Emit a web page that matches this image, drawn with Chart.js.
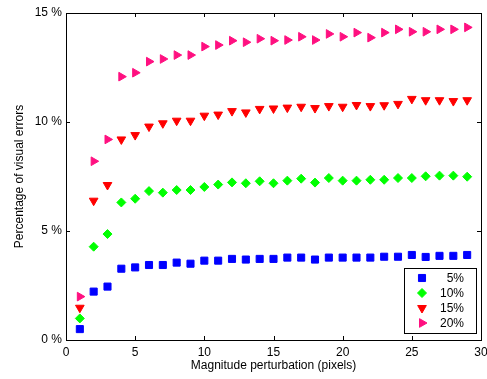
<!DOCTYPE html>
<html>
<head>
<meta charset="utf-8">
<script src="https://cdn.jsdelivr.net/npm/chart.js@4"></script>
<style>
  html, body { margin: 0; padding: 0; background: #fff; }
  #wrap { width: 487px; height: 379px; }
</style>
</head>
<body>
<div id="wrap"><canvas id="myChart" width="487" height="379"></canvas></div>
<script>
// magnitude perturbation (pixels)
const xs = [1, 2, 3, 4, 5, 6, 7, 8, 9, 10, 11, 12, 13, 14, 15, 16, 17, 18, 19, 20, 21, 22, 23, 24, 25, 26, 27, 28, 29];

// percentage of visual errors
const err5 = [0.50, 2.22, 2.45, 3.27, 3.33, 3.44, 3.44, 3.55, 3.50, 3.64, 3.64, 3.72, 3.69, 3.72, 3.72,
    3.78, 3.78, 3.69, 3.78, 3.78, 3.78, 3.78, 3.82, 3.82, 3.90, 3.81, 3.86, 3.86, 3.90];
const err10 = [0.99, 4.28, 4.86, 6.31, 6.48, 6.83, 6.76, 6.88, 6.88, 7.02, 7.13, 7.23, 7.19, 7.28, 7.19,
    7.31, 7.40, 7.22, 7.43, 7.31, 7.31, 7.35, 7.35, 7.43, 7.43, 7.51, 7.54, 7.54, 7.49];
const err15 = [1.48, 6.39, 7.11, 9.20, 9.40, 9.79, 9.94, 10.06, 10.06, 10.29, 10.34, 10.50, 10.44, 10.60, 10.62,
    10.66, 10.70, 10.64, 10.73, 10.70, 10.78, 10.73, 10.77, 10.83, 11.06, 11.00, 11.00, 10.96, 11.00];
const err20 = [1.99, 8.20, 9.20, 12.08, 12.26, 12.77, 12.89, 13.07, 13.07, 13.46, 13.53, 13.73, 13.66, 13.82, 13.73,
    13.76, 13.91, 13.76, 14.04, 13.91, 14.10, 13.87, 14.10, 14.25, 14.14, 14.14, 14.25, 14.25, 14.34];

const seriesLabels = ['5%', '10%', '15%', '20%'];
const xTicks = [0, 5, 10, 15, 20, 25, 30];
const yTicks = [0, 5, 10, 15];

const FONT = 'Arial, "Liberation Sans", Helvetica, sans-serif';

function pts(ys) {
    return xs.map((x, i) => ({ x: x, y: ys[i] }));
}

function ds(label, ys, color, style, rot, r) {
    return {
        label: label,
        data: pts(ys),
        backgroundColor: color,
        borderColor: color,
        borderWidth: 1,
        pointStyle: style,
        rotation: rot,
        pointRadius: r,
        pointHoverRadius: r,
        showLine: false
    };
}

// inward ticks on all four sides (matlab box style)
const boxTicks = {
    id: 'boxTicks',
    afterDraw(chart) {
        const ctx = chart.ctx;
        const a = chart.chartArea;
        const sx = chart.scales.x, sy = chart.scales.y;
        const L = 4;
        ctx.save();
        ctx.strokeStyle = '#000';
        ctx.lineWidth = 1;
        ctx.beginPath();
        xTicks.forEach(v => {
            const px = Math.round(sx.getPixelForValue(v)) + 0.5;
            ctx.moveTo(px, a.bottom); ctx.lineTo(px, a.bottom - L);
            ctx.moveTo(px, a.top); ctx.lineTo(px, a.top + L);
        });
        yTicks.forEach(v => {
            const py = Math.round(sy.getPixelForValue(v)) + 0.5;
            ctx.moveTo(a.left, py); ctx.lineTo(a.left + L, py);
            ctx.moveTo(a.right, py); ctx.lineTo(a.right - L, py);
        });
        ctx.stroke();
        ctx.strokeRect(Math.round(a.left) + 0.5, Math.round(a.top) + 0.5,
            Math.round(a.right - a.left), Math.round(a.bottom - a.top));
        ctx.restore();
    }
};

// legend box in the lower right corner
const boxLegend = {
    id: 'boxLegend',
    afterDraw(chart) {
        const ctx = chart.ctx;
        const a = chart.chartArea;
        const w = 72, h = 65;
        const x0 = Math.round(a.right) - 5 - w, y0 = Math.round(a.bottom) - 7 - h;
        ctx.save();
        ctx.fillStyle = '#fff';
        ctx.fillRect(x0, y0, w, h);
        ctx.strokeStyle = '#000';
        ctx.lineWidth = 1;
        ctx.strokeRect(x0 + 0.5, y0 + 0.5, w, h);
        ctx.font = '12px ' + FONT;
        ctx.textAlign = 'right';
        ctx.textBaseline = 'middle';
        chart.data.datasets.forEach((d, i) => {
            const cy = y0 + 10 + i * 15;
            ctx.fillStyle = d.backgroundColor;
            ctx.strokeStyle = d.borderColor;
            Chart.helpers.drawPoint(ctx, {
                pointStyle: d.pointStyle, rotation: d.rotation,
                radius: d.pointRadius, borderWidth: 1
            }, x0 + 18, cy);
            ctx.fillStyle = '#000';
            ctx.fillText(d.label, x0 + w - 12, cy + 1);
        });
        ctx.restore();
    }
};

const config = {
    type: 'scatter',
    data: {
        datasets: [
            ds(seriesLabels[0], err5, '#0000ff', 'rect', 0, 5),
            ds(seriesLabels[1], err10, '#00ff00', 'rectRot', 0, 4.5),
            ds(seriesLabels[2], err15, '#ff0000', 'triangle', 180, 5),
            ds(seriesLabels[3], err20, '#ff1080', 'triangle', 90, 5)
        ]
    },
    options: {
        responsive: false,
        animation: false,
        layout: { padding: { top: 13, right: 6, left: 0, bottom: 0 } },
        plugins: {
            legend: { display: false },
            tooltip: { enabled: false }
        },
        scales: {
            x: {
                type: 'linear',
                min: 0,
                max: 30,
                afterBuildTicks(s) { s.ticks = xTicks.map(v => ({ value: v })); },
                afterFit(s) { s.height = 39; s.paddingLeft = 0; s.paddingRight = 0; },
                grid: { display: false, drawTicks: false },
                border: { display: false },
                ticks: {
                    color: '#000',
                    padding: 5,
                    font: { family: FONT, size: 12 },
                    maxRotation: 0
                },
                title: {
                    display: true,
                    text: 'Magnitude perturbation (pixels)',
                    color: '#000',
                    font: { family: FONT, size: 12 },
                    padding: { top: 0, bottom: 6 }
                }
            },
            y: {
                min: 0,
                max: 15,
                afterBuildTicks(s) { s.ticks = yTicks.map(v => ({ value: v })); },
                afterFit(s) { s.width = 66; },
                grid: { display: false, drawTicks: false },
                border: { display: false },
                ticks: {
                    color: '#000',
                    padding: 4,
                    font: { family: FONT, size: 12 },
                    callback: v => v + ' %'
                },
                title: {
                    display: true,
                    text: 'Percentage of visual errors',
                    color: '#000',
                    font: { family: FONT, size: 12 },
                    padding: { top: 12, bottom: 0 }
                }
            }
        }
    },
    plugins: [boxTicks, boxLegend]
};

const myChart = new Chart(document.getElementById('myChart'), config);
</script>
</body>
</html>
